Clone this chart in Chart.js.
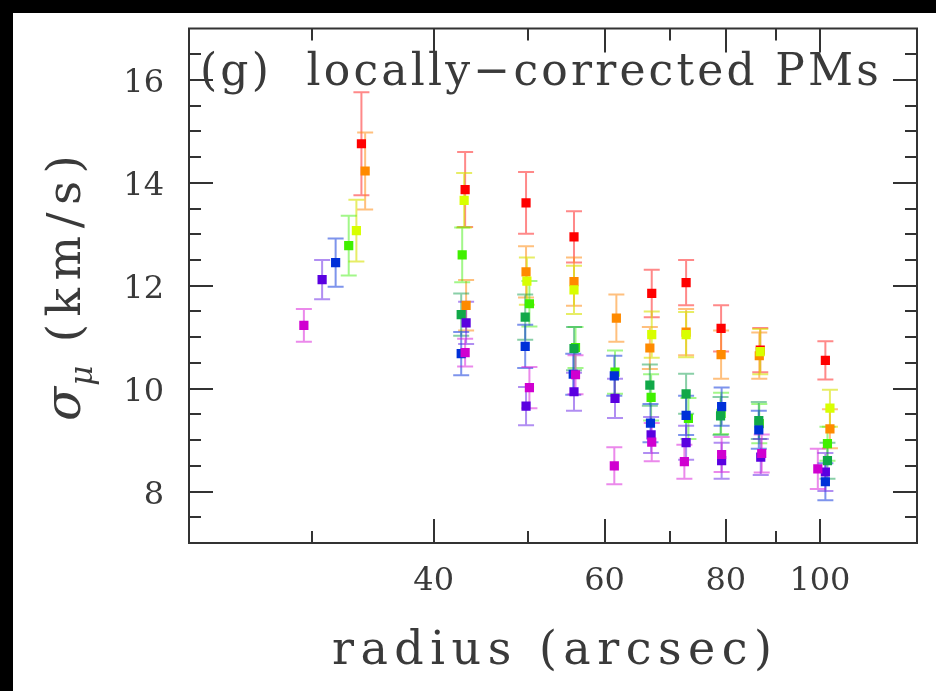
<!DOCTYPE html>
<html>
<head>
<meta charset="utf-8">
<script src="https://cdn.jsdelivr.net/npm/chart.js@4.4.0/dist/chart.umd.min.js"></script>
<style>
  html, body { margin: 0; padding: 0; background: #000; }
  #wrap { position: absolute; left: 13px; top: 13px; width: 923px; height: 678px; background: #fff; }
</style>
</head>
<body>
<div id="wrap"><canvas id="chart" width="923" height="678"></canvas></div>
<script>
// radius (arcsec), sigma_mu (km/s) and its error, one set per colour bin
var redX = [33.7, 43.1, 49.8, 55.8, 67.1, 72.8, 79.1, 86.8, 101.3];
var redY = [14.76, 13.87, 13.61, 12.95, 11.85, 12.06, 11.17, 10.75, 10.55];
var redErr = [1.0, 0.73, 0.6, 0.5, 0.46, 0.44, 0.45, 0.43, 0.37];

var orangeX = [34.0, 43.2, 49.8, 55.8, 61.7, 66.8, 72.8, 79.1, 86.6, 102.4];
var orangeY = [14.23, 11.62, 12.27, 12.08, 11.37, 10.79, 11.1, 10.66, 10.64, 9.22];
var orangeErr = [0.75, 0.49, 0.5, 0.47, 0.46, 0.41, 0.45, 0.47, 0.45, 0.38];

var yellowX = [33.3, 43.0, 49.9, 55.8, 67.1, 72.8, 86.8, 102.4];
var yellowY = [13.07, 13.66, 12.09, 11.92, 11.05, 11.05, 10.72, 9.62];
var yellowErr = [0.6, 0.53, 0.46, 0.47, 0.45, 0.44, 0.44, 0.36];

var limeX = [32.7, 42.8, 50.2, 56.0, 61.5, 67.0, 73.2, 79.1, 86.6, 101.8];
var limeY = [12.78, 12.6, 11.65, 10.8, 10.32, 9.83, 9.42, 9.52, 9.32, 8.93];
var limeErr = [0.58, 0.53, 0.44, 0.4, 0.42, 0.45, 0.4, 0.4, 0.38, 0.33];

var greenX = [42.7, 49.7, 55.8, 66.8, 72.8, 79.0, 86.5, 101.8];
var greenY = [11.44, 11.39, 10.78, 10.07, 9.9, 9.47, 9.38, 8.6];
var greenErr = [0.41, 0.44, 0.42, 0.4, 0.39, 0.37, 0.36, 0.35];

var blueX = [31.7, 42.7, 49.7, 55.7, 61.4, 66.9, 72.8, 79.2, 86.5, 101.3];
var blueY = [12.45, 10.68, 10.82, 10.28, 10.25, 9.33, 9.48, 9.65, 9.2, 8.19];
var blueErr = [0.47, 0.42, 0.42, 0.4, 0.39, 0.37, 0.38, 0.37, 0.37, 0.36];

var violetX = [30.7, 43.2, 49.8, 55.8, 61.5, 67.0, 72.8, 79.2, 86.9, 101.3];
var violetY = [12.12, 11.28, 9.66, 9.94, 9.81, 9.1, 8.95, 8.6, 8.67, 8.38];
var violetErr = [0.38, 0.41, 0.37, 0.37, 0.38, 0.35, 0.33, 0.35, 0.35, 0.37];

var magentaX = [29.4, 43.1, 50.2, 56.0, 61.4, 67.1, 72.5, 79.2, 87.1, 99.5];
var magentaY = [11.23, 10.7, 10.02, 10.27, 8.5, 8.96, 8.58, 8.72, 8.74, 8.44];
var magentaErr = [0.32, 0.27, 0.4, 0.38, 0.36, 0.37, 0.33, 0.34, 0.37, 0.39];

var xLabelTicks = [40, 60, 80, 100];
var xMinorTicks = [30, 50, 70, 90];
var yLabelTicks = [8, 10, 12, 14, 16];

var series = [
  {x: redX, y: redY, err: redErr, color: "#ff0000", bar: "rgba(255,40,40,0.55)"},
  {x: orangeX, y: orangeY, err: orangeErr, color: "#ff8a00", bar: "rgba(255,140,20,0.55)"},
  {x: yellowX, y: yellowY, err: yellowErr, color: "#d8ff00", bar: "rgba(215,225,0,0.6)"},
  {x: limeX, y: limeY, err: limeErr, color: "#40f000", bar: "rgba(70,240,20,0.5)"},
  {x: greenX, y: greenY, err: greenErr, color: "#10a848", bar: "rgba(20,160,80,0.5)"},
  {x: blueX, y: blueY, err: blueErr, color: "#0030d8", bar: "rgba(20,60,220,0.55)"},
  {x: violetX, y: violetY, err: violetErr, color: "#5a00e0", bar: "rgba(100,30,230,0.5)"},
  {x: magentaX, y: magentaY, err: magentaErr, color: "#d000d0", bar: "rgba(215,20,215,0.5)"}
];

var SERIF = "'DejaVu Serif', serif";
var INK = "#3a3a3a";

function spaced(ctx, text, x, y, spacing) {
  ctx.letterSpacing = spacing + "px";
  ctx.fillText(text, x, y);
  ctx.letterSpacing = "0px";
}

var pgFrame = {
  id: "pgFrame",
  beforeDatasetsDraw(chart) {
    var ctx = chart.ctx, xs = chart.scales.x, ys = chart.scales.y;
    ctx.save();
    ctx.lineWidth = 2;
    series.forEach(function (s) {
      ctx.strokeStyle = s.bar;
      s.x.forEach(function (xv, i) {
        var px = xs.getPixelForValue(xv);
        var top = ys.getPixelForValue(s.y[i] + s.err[i]);
        var bot = ys.getPixelForValue(s.y[i] - s.err[i]);
        ctx.beginPath();
        ctx.moveTo(px, top); ctx.lineTo(px, bot);
        ctx.moveTo(px - 8, top); ctx.lineTo(px + 8, top);
        ctx.moveTo(px - 8, bot); ctx.lineTo(px + 8, bot);
        ctx.stroke();
      });
    });
    ctx.restore();
  },
  afterDraw(chart) {
    var ctx = chart.ctx, a = chart.chartArea, xs = chart.scales.x, ys = chart.scales.y;
    ctx.save();
    ctx.strokeStyle = "#333";
    ctx.lineWidth = 2;
    ctx.strokeRect(a.left, a.top, a.right - a.left, a.bottom - a.top);

    ctx.beginPath();
    xLabelTicks.concat(xMinorTicks).forEach(function (v) {
      var len = xLabelTicks.indexOf(v) >= 0 ? 24 : 12;
      var px = Math.round(xs.getPixelForValue(v));
      ctx.moveTo(px, a.bottom); ctx.lineTo(px, a.bottom - len);
      ctx.moveTo(px, a.top); ctx.lineTo(px, a.top + len);
    });
    for (var v = 7.5; v < 17; v += 0.5) {
      var len = yLabelTicks.indexOf(v) >= 0 ? 24 : 12;
      var py = Math.round(ys.getPixelForValue(v));
      ctx.moveTo(a.left, py); ctx.lineTo(a.left + len, py);
      ctx.moveTo(a.right, py); ctx.lineTo(a.right - len, py);
    }
    ctx.stroke();

    ctx.fillStyle = INK;
    ctx.textBaseline = "alphabetic";

    // panel label
    ctx.font = "44px " + SERIF;
    ctx.textAlign = "left";
    spaced(ctx, "(g)  locally\u2212corrected PMs", 187, 72, 3.2);

    // x title
    ctx.font = "46px " + SERIF;
    ctx.letterSpacing = "6.5px";
    var wx = ctx.measureText("radius (arcsec)").width - 6.5;
    ctx.letterSpacing = "0px";
    spaced(ctx, "radius (arcsec)", 539 - wx / 2, 651, 6.5);

    // y title, rotated
    ctx.translate(51, 275);
    ctx.rotate(-Math.PI / 2);
    ctx.font = "italic 50px " + SERIF;
    var w1 = ctx.measureText("\u03c3").width;
    ctx.font = "italic 31px " + SERIF;
    var w2 = ctx.measureText("\u03bc").width;
    ctx.font = "47px " + SERIF;
    ctx.letterSpacing = "7.5px";
    var w3 = ctx.measureText(" (km/s)").width - 7.5;
    ctx.letterSpacing = "0px";
    var x0 = -(w1 + w2 + 2 + w3) / 2;
    ctx.font = "italic 50px " + SERIF;
    ctx.fillText("\u03c3", x0, 16);
    ctx.font = "italic 31px " + SERIF;
    ctx.fillText("\u03bc", x0 + w1 + 1, 28);
    ctx.font = "47px " + SERIF;
    spaced(ctx, " (km/s)", x0 + w1 + w2 + 2, 16, 7.5);
    ctx.restore();
  }
};

var datasets = series.map(function (s, k) {
  return {
    data: s.x.map(function (xv, i) { return {x: xv, y: s.y[i]}; }),
    backgroundColor: s.color,
    borderWidth: 0,
    pointStyle: "rect",
    pointRadius: 6.5,
    order: series.length - k
  };
});

new Chart(document.getElementById("chart"), {
  type: "scatter",
  data: {datasets: datasets},
  options: {
    responsive: false,
    animation: false,
    devicePixelRatio: 1,
    layout: {padding: {top: 15.5, right: 19, left: 0, bottom: 0}},
    plugins: {legend: {display: false}, tooltip: {enabled: false}},
    scales: {
      x: {
        type: "logarithmic",
        min: Math.pow(10, 1.35),
        max: Math.pow(10, 2.1),
        grid: {display: false},
        border: {display: false},
        afterBuildTicks: function (s) { s.ticks = xLabelTicks.map(function (v) { return {value: v}; }); },
        afterFit: function (s) { s.height = 148; s.paddingLeft = 0; s.paddingRight = 0; },
        ticks: {
          autoSkip: false, maxRotation: 0, padding: 11, color: INK,
          font: {family: SERIF, size: 32},
          callback: function (v) { return String(v); }
        }
      },
      y: {
        min: 7,
        max: 17,
        grid: {display: false},
        border: {display: false},
        afterBuildTicks: function (s) { s.ticks = yLabelTicks.map(function (v) { return {value: v}; }); },
        afterFit: function (s) { s.width = 176; s.paddingTop = 0; s.paddingBottom = 0; },
        ticks: {
          padding: 17, color: INK, labelOffset: 4,
          font: {family: SERIF, size: 32},
          callback: function (v) { return String(v); }
        }
      }
    }
  },
  plugins: [pgFrame]
});
</script>
</body>
</html>
